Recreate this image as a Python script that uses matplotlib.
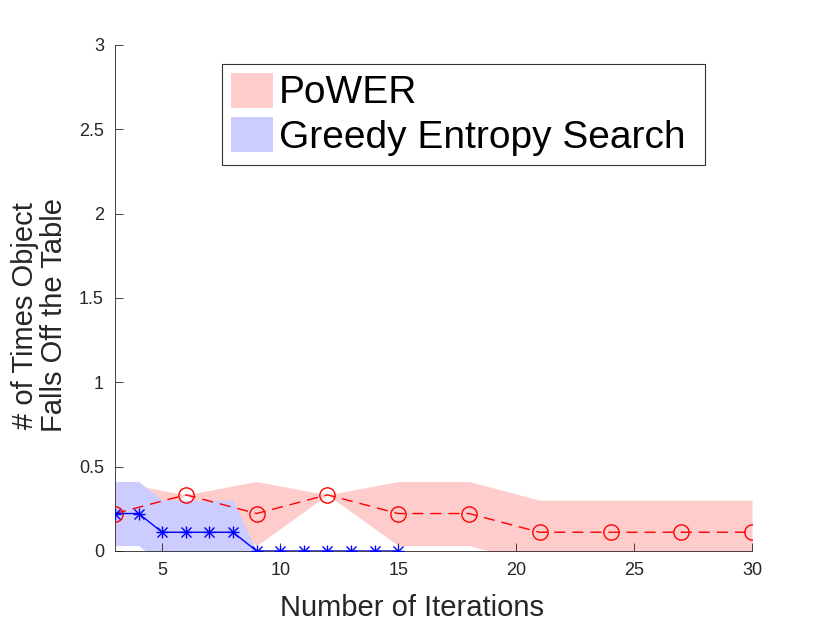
import numpy as np
import matplotlib
matplotlib.use("Agg")
import matplotlib.pyplot as plt
from matplotlib.patches import Patch

plt.rcParams['font.family'] = ['Liberation Sans', 'DejaVu Sans']

# PoWER results
power_iters = [3, 6, 9, 12, 15, 18, 21, 24, 27, 30]
power_mean = [0.222, 0.333, 0.222, 0.333, 0.222, 0.222, 0.111, 0.111, 0.111, 0.111]
power_std = [0.19, 0.0, 0.19, 0.0, 0.19, 0.19, 0.19, 0.19, 0.19, 0.19]

# Greedy Entropy Search results
ges_iters = [3, 4, 5, 6, 7, 8, 9, 10, 11, 12, 13, 14, 15]
ges_mean = [0.222, 0.222, 0.111, 0.111, 0.111, 0.111, 0, 0, 0, 0, 0, 0, 0]
ges_std = [0.19, 0.19, 0.19, 0.19, 0.19, 0.19, 0, 0, 0, 0, 0, 0, 0]

legend_labels = ['PoWER', 'Greedy Entropy Search']

fig = plt.figure(figsize=(8.3, 6.23), dpi=100)
ax = fig.add_axes([0.1386, 0.1156, 0.7675, 0.8122])

pm, ps = np.array(power_mean), np.array(power_std)
gm, gs = np.array(ges_mean), np.array(ges_std)

red_fill = (1.0, 0.8, 0.8)
blue_fill = (0.8, 0.8, 1.0)

ax.fill_between(power_iters, pm - ps, pm + ps, color=red_fill, lw=0, zorder=1)
ax.fill_between(ges_iters, gm - gs, gm + gs, color=blue_fill, lw=0, zorder=1)
ax.plot(power_iters, power_mean, 'r--', marker='o', mfc='none', ms=11,
        mew=1.0, lw=1.0, dashes=(8, 5), zorder=3)
# matlab-style asterisk = plus + cross
ax.plot(ges_iters, ges_mean, 'b-', marker='+', ms=9, mew=1.0, lw=1.0, zorder=3)
ax.plot(ges_iters, ges_mean, 'b', ls='none', marker='x', ms=7, mew=1.0, zorder=3)

ax.set_xlim(3, 30)
ax.set_ylim(0, 3)
ax.set_xticks([5, 10, 15, 20, 25, 30])
ax.set_yticks([0, 0.5, 1, 1.5, 2, 2.5, 3])
ax.set_yticklabels(['0', '0.5', '1', '1.5', '2', '2.5', '3'])

axis_col = (0.15, 0.15, 0.15)
for side in ['top', 'right']:
    ax.spines[side].set_visible(False)
for side in ['left', 'bottom']:
    ax.spines[side].set_color(axis_col)
    ax.spines[side].set_linewidth(0.6)
ax.tick_params(direction='in', length=6, width=0.6, colors=axis_col,
               labelsize=13, pad=8)

ax.set_xlabel('Number of Iterations', fontsize=21, color=axis_col)
ax.set_ylabel('# of Times Object\nFalls Off the Table', fontsize=21,
              color=axis_col, linespacing=1.05)
ax.xaxis.set_label_coords(0.466, -0.086)
ax.yaxis.set_label_coords(-0.074, 0.466)

handles = [Patch(facecolor=red_fill, edgecolor='none'),
           Patch(facecolor=blue_fill, edgecolor='none')]
leg = ax.legend(handles, legend_labels, loc='upper left',
                bbox_to_anchor=(0.168, 0.5, 0.758, 0.462), mode='expand',
                fontsize=28, frameon=True,
                fancybox=False, borderpad=0.22, handlelength=1.1,
                handleheight=1.0, handletextpad=0.15, labelspacing=0.15,
                borderaxespad=0)
leg.get_frame().set_edgecolor('black')
leg.get_frame().set_linewidth(0.8)

fig.savefig('out.png', dpi=100)
